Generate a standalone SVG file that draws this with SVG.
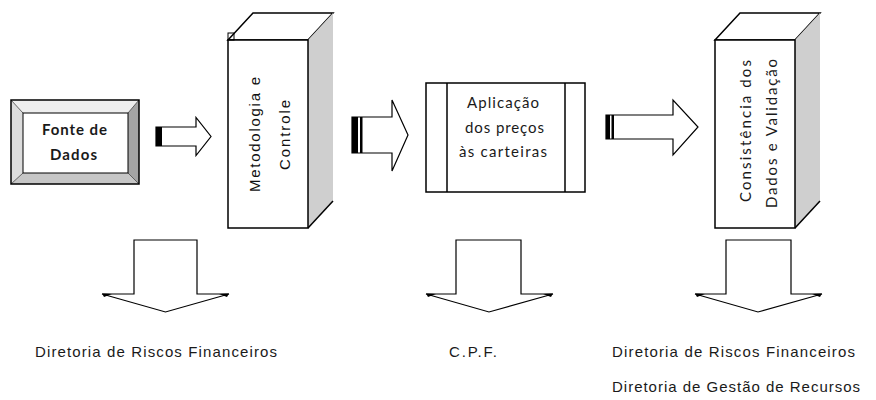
<svg xmlns="http://www.w3.org/2000/svg" width="876" height="400" viewBox="0 0 876 400">
<style>
.ln{stroke:#000;stroke-width:1.5;fill:none}
.box{stroke:#000;stroke-width:1.5;fill:#fff}
.arr{stroke:#000;stroke-width:1.2;fill:#fff;stroke-linejoin:miter}
.side{fill:#cfcfcf;stroke:none}
.cal{font-family:Lato,"Open Sans",sans-serif;fill:#1a1a1a;font-size:15px}
.lbl{font-family:"Liberation Sans",Arial,sans-serif;font-size:15px;fill:#1a1a1a}
.rot{font-family:"Liberation Sans",Arial,sans-serif;font-size:15px;fill:#111;text-anchor:middle}
</style>
<rect width="876" height="400" fill="#fff"/>

<g id="fonte-de-dados">
<rect x="11" y="100" width="128" height="84" fill="#fff"/>
<polygon points="11,100 139,100 128,113 23,113" fill="#eeeeee"/>
<polygon points="11,100 23,113 23,173 11,184" fill="#dcdcdc"/>
<polygon points="139,100 139,184 128,173 128,113" fill="#a4a4a4"/>
<polygon points="11,184 23,173 128,173 139,184" fill="#c6c6c6"/>
<g stroke="#444" stroke-width="0.8"><line x1="11" y1="100" x2="23" y2="113"/><line x1="139" y1="100" x2="128" y2="113"/><line x1="11" y1="184" x2="23" y2="173"/><line x1="139" y1="184" x2="128" y2="173"/></g>
<rect x="23" y="113" width="105" height="60" fill="#fff" stroke="#000" stroke-width="1"/>
<rect x="11" y="100" width="128" height="84" class="ln"/>
<text class="cal" x="42" y="135" font-weight="bold" font-size="13" textLength="65" lengthAdjust="spacing">Fonte de</text>
<text class="cal" x="50" y="160" font-weight="bold" font-size="13" textLength="47" lengthAdjust="spacing">Dados</text>
</g>

<g id="metodologia">
<polygon class="box" points="228,40 253,13 333,13 308,40"/>
<polygon class="side" points="308,40 333,13 333,201 308,228"/>
<line class="ln" x1="308" y1="228" x2="333" y2="201" stroke-width="1"/>
<rect class="box" x="228" y="40" width="80" height="188"/>
<rect x="228" y="33" width="6" height="7" fill="none" stroke="#000" stroke-width="1"/>
<text class="rot" transform="translate(260,134.5) rotate(-90)" textLength="115" lengthAdjust="spacing">Metodologia e</text>
<text class="rot" transform="translate(290,135) rotate(-90)" textLength="70" lengthAdjust="spacing">Controle</text>
</g>

<g id="aplicacao">
<rect class="box" x="426" y="83" width="159" height="109"/>
<line class="ln" x1="447" y1="83" x2="447" y2="192"/>
<line class="ln" x1="565" y1="83" x2="565" y2="192"/>
<text class="cal" x="467" y="108" textLength="72" lengthAdjust="spacing">Aplicação</text>
<text class="cal" x="465" y="133" textLength="79" lengthAdjust="spacing">dos preços</text>
<text class="cal" x="459" y="157" textLength="88" lengthAdjust="spacing">às carteiras</text>
</g>

<g id="consistencia">
<polygon class="box" points="715,40 740,13 820,13 795,40"/>
<polygon class="side" points="795,40 820,13 820,201 795,228"/>
<line class="ln" x1="795" y1="228" x2="820" y2="201" stroke-width="1"/>
<rect class="box" x="715" y="40" width="80" height="188"/>
<text class="cal" text-anchor="middle" font-size="16" transform="translate(751,131) rotate(-90)" textLength="142" lengthAdjust="spacing">Consistência dos</text>
<text class="cal" text-anchor="middle" font-size="16" transform="translate(777,133.5) rotate(-90)" textLength="149" lengthAdjust="spacing">Dados e Validação</text>
</g>

<g id="connectors">
<path class="arr" d="M156,127 H196 V117.5 L211,136.5 L196,155.5 V146 H156 Z"/>
<rect x="156" y="127" width="6" height="19" fill="#000"/>
<path class="arr" d="M352,117 H392 V100 L408,135 L392,171 V153 H352 Z"/>
<rect x="352" y="117" width="6" height="36" fill="#000"/>
<rect x="360" y="117" width="2.5" height="36" fill="#000"/>
<path class="arr" d="M606,115 H673 V100 L698,127 L673,155 V139 H606 Z"/>
<rect x="606" y="115" width="4" height="24" fill="#000"/>
<rect x="611.5" y="115" width="2.5" height="24" fill="#000"/>

<path class="arr" d="M134,240 H197 V294 H229 L165.5,312 L102,294 H134 Z"/>
<path class="arr" d="M456,240 H521 V294 H553 L489,312 L426,294 H456 Z"/>
<path class="arr" d="M726,240 H791 V294 H822 L758,312 L695,294 H726 Z"/>
<g fill="#000">
<polygon points="102,293.5 112,294 104,297"/><polygon points="229,293.5 219,294 227,297"/>
<polygon points="426,293.5 436,294 428,297"/><polygon points="553,293.5 543,294 551,297"/>
<polygon points="695,293.5 705,294 697,297"/><polygon points="822,293.5 812,294 820,297"/>
</g>
</g>

<g id="labels">
<text class="lbl" x="35" y="357" textLength="242" lengthAdjust="spacing">Diretoria de Riscos Financeiros</text>
<text class="lbl" x="449" y="357" textLength="48" lengthAdjust="spacing">C.P.F.</text>
<text class="lbl" x="612" y="357" textLength="243" lengthAdjust="spacing">Diretoria de Riscos Financeiros</text>
<text class="lbl" x="612" y="392" textLength="248" lengthAdjust="spacing">Diretoria de Gestão de Recursos</text>
</g>
</svg>
